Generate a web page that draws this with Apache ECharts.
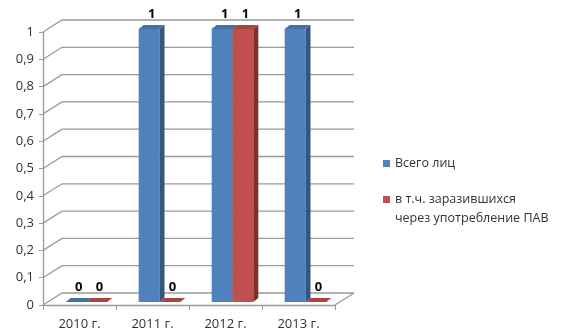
<!DOCTYPE html>
<html>
<head>
<meta charset="utf-8">
<script src="https://cdn.jsdelivr.net/npm/echarts@6/dist/echarts.min.js"></script>
<style>
  html, body { margin: 0; padding: 0; background: #fff; }
  #chart { width: 575px; height: 334px; }
</style>
</head>
<body>
<div id="chart"></div>
<script>
// data
const categories = ['2010 г.', '2011 г.', '2012 г.', '2013 г.']
const totalPersons = [0, 1, 1, 1]
const viaDrugs = [0, 0, 1, 0]
const seriesNames = ['Всего лиц', 'в т.ч. заразившихся\nчерез употребление ПАВ']
const yTicks = [0, 0.1, 0.2, 0.3, 0.4, 0.5, 0.6, 0.7, 0.8, 0.9, 1]

const FONT = 'Open Sans'
// 3d look: wall depth and bar depth in pixels
const WALL_DX = 19, WALL_DY = -12
const BAR_SHIFT_X = 7, BAR_SHIFT_Y = -3
const BAR_DX = 5, BAR_DY = -4

const colors = [
  { front: '#4f81bd', side: '#34577f', top: '#4372aa' },
  { front: '#c0504d', side: '#7f302e', top: '#a94441' }
]

function barRender (idx) {
  return function (params, api) {
    const cat = api.value(0)
    const val = api.value(1)
    const p = api.coord([cat, val])
    const base = api.coord([cat, 0])
    const bw = api.size([1, 0])[0]
    const w = bw * 0.285
    const x0 = p[0] + BAR_SHIFT_X + (idx === 0 ? -w : 0)
    const top = p[1] + BAR_SHIFT_Y
    const bot = base[1] + BAR_SHIFT_Y
    const c = colors[idx]
    const children = []
    if (bot - top > 0.5) {
      children.push({
        type: 'rect',
        shape: { x: x0, y: top, width: w, height: bot - top },
        style: { fill: c.front }
      })
      children.push({
        type: 'polygon',
        shape: { points: [[x0 + w, top], [x0 + w + BAR_DX, top + BAR_DY], [x0 + w + BAR_DX, bot + BAR_DY], [x0 + w, bot]] },
        style: { fill: c.side }
      })
    }
    children.push({
      type: 'polygon',
      shape: { points: [[x0, top], [x0 + BAR_DX, top + BAR_DY], [x0 + w + BAR_DX, top + BAR_DY], [x0 + w, top]] },
      style: { fill: c.top }
    })
    children.push({
      type: 'text',
      x: x0 + w / 2 + BAR_DX / 2,
      y: top + BAR_DY - 4,
      style: {
        text: String(val),
        fill: '#000',
        font: 'bold 13px ' + FONT,
        align: 'center',
        verticalAlign: 'bottom'
      }
    })
    return { type: 'group', children: children }
  }
}

function wallRender (params, api) {
  const cs = params.coordSys
  const v = api.value(1)
  const y = api.coord([0, v])[1]
  const xl = cs.x
  const xr = cs.x + cs.width
  const children = [{
    type: 'polyline',
    shape: { points: [[xl, y], [xl + WALL_DX, y + WALL_DY], [xr + WALL_DX, y + WALL_DY]] },
    style: { stroke: '#9a9a9a', lineWidth: 1.3, fill: null }
  }]
  if (v === 0) {
    children.push({
      type: 'line',
      shape: { x1: xr, y1: y, x2: xr + WALL_DX, y2: y + WALL_DY },
      style: { stroke: '#9a9a9a', lineWidth: 1.3 }
    })
  }
  return { type: 'group', children: children }
}

const chart = echarts.init(document.getElementById('chart'))
chart.setOption({
  backgroundColor: '#fff',
  animation: false,
  textStyle: { fontFamily: FONT },
  grid: { left: 43, right: 240, top: 32, bottom: 29 },
  legend: {
    orient: 'vertical',
    left: 383,
    top: 154,
    padding: 0,
    itemWidth: 7,
    itemHeight: 7,
    itemGap: -2,
    icon: 'rect',
    textStyle: { fontSize: 12.5, color: '#333', fontFamily: FONT, lineHeight: 19 },
    // extra leading empty line keeps the icon level with the first text line
    formatter: name => name.indexOf('\n') >= 0 ? '\n' + name : name,
    data: seriesNames
  },
  xAxis: {
    type: 'category',
    data: categories,
    axisLine: { lineStyle: { color: '#9a9a9a', width: 1.3 } },
    axisTick: { show: true, length: 5, lineStyle: { color: '#9a9a9a' } },
    axisLabel: { color: '#333', fontSize: 13, margin: 13, fontFamily: FONT },
    splitLine: { show: false }
  },
  yAxis: {
    type: 'value',
    min: 0,
    max: 1,
    interval: 0.1,
    axisLine: { show: true, lineStyle: { color: '#9a9a9a', width: 1.3 } },
    axisTick: { show: true, length: 4, lineStyle: { color: '#9a9a9a' } },
    axisLabel: {
      color: '#333',
      fontSize: 13,
      margin: 9,
      fontFamily: FONT,
      formatter: v => String(Math.round(v * 10) / 10).replace('.', ',')
    },
    splitLine: { show: false }
  },
  series: [
    {
      name: 'wall',
      type: 'custom',
      silent: true,
      z: 1,
      renderItem: wallRender,
      encode: { x: 0, y: 1 },
      data: yTicks.map(v => [0, v])
    },
    {
      name: seriesNames[0],
      type: 'custom',
      z: 3,
      itemStyle: { color: colors[0].front },
      renderItem: barRender(0),
      encode: { x: 0, y: 1 },
      data: totalPersons.map((v, i) => [i, v])
    },
    {
      name: seriesNames[1],
      type: 'custom',
      z: 3,
      itemStyle: { color: colors[1].front },
      renderItem: barRender(1),
      encode: { x: 0, y: 1 },
      data: viaDrugs.map((v, i) => [i, v])
    }
  ]
})
</script>
</body>
</html>
